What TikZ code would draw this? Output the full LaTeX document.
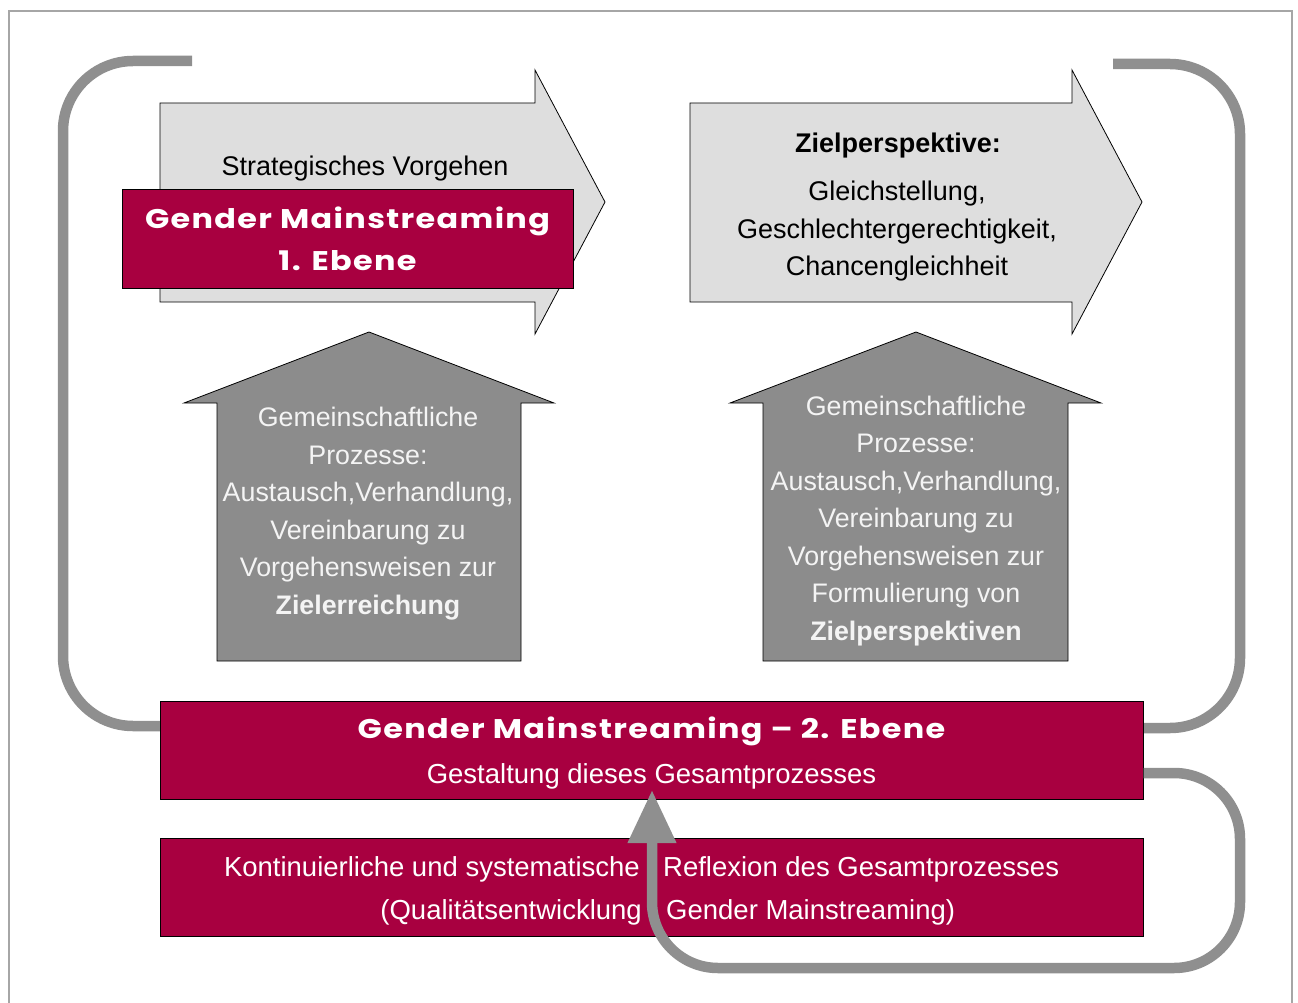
\documentclass[tikz,border=0pt]{standalone}
\usepackage{fontspec}
\setmainfont{Liberation Sans}
\newfontfamily\headfont{Poppins}[FakeStretch=1.18, LetterSpace=5]
\usetikzlibrary{arrows.meta}
\definecolor{gmred}{HTML}{A80040}
\definecolor{lightfill}{HTML}{DEDEDE}
\definecolor{darkfill}{HTML}{8C8C8C}
\definecolor{loopgray}{HTML}{8F8F8F}
\definecolor{softwhite}{HTML}{F4F4F4}
\begin{document}
\begin{tikzpicture}[x=1pt,y=-1pt,
  bodytext/.style={font=\fontsize{27}{37.5}\selectfont, align=center, inner sep=0pt},
  housetext/.style={font=\fontsize{26.8}{37.5}\selectfont, align=center, inner sep=0pt, text=softwhite},
  whitetext/.style={font=\fontsize{27.5}{43}\selectfont, inner sep=0pt, text=white},
  headtext/.style={font=\headfont\bfseries\fontsize{27}{42}\selectfont, align=center, inner sep=0pt, text=white},
  redbox/.style={draw=black, line width=0.8pt, fill=gmred, inner sep=0pt},
  blockarrow/.style={draw=black, line width=0.8pt, fill=lightfill},
  housearrow/.style={draw=black, line width=0.8pt, fill=darkfill},
  loopline/.style={draw=loopgray, line width=10.5pt}
]
\useasboundingbox (0,0) rectangle (1298,1003);
% frame
\draw[black!35, line width=1.2pt] (9,1003) -- (9,11) -- (1292,11) -- (1292,1003);

% block arrows (top)
\path[blockarrow] (160,103) -- (535,103) -- (535,70) -- (605,202) -- (535,334) -- (535,302) -- (160,302) -- cycle;
\path[blockarrow] (690,103) -- (1072,103) -- (1072,70) -- (1142,202) -- (1072,334) -- (1072,302) -- (690,302) -- cycle;

% house arrows
\path[housearrow] (217,661) -- (217,403) -- (184,403) -- (369,332) -- (554,403) -- (521,403) -- (521,661) -- cycle;
\path[housearrow] (763,661) -- (763,403) -- (730,403) -- (916,332) -- (1101,403) -- (1068,403) -- (1068,661) -- cycle;

% loop coordinates
\coordinate (lstart) at (192,61);
\coordinate (rstart) at (1113,64);

% upper loops (behind the box)
\draw[loopline, rounded corners=70pt] (lstart) -- (63,61) -- (63,726) -- (170,726);
\draw[loopline, rounded corners=70pt] (rstart) -- (1240,64) -- (1240,728) -- (1135,728);

% text of top arrows
\node[bodytext] (strat) at (365,169) {Strategisches Vorgehen};
\node[redbox, minimum width=451pt, minimum height=99pt] (gm1) at (347.5,238.5) {};
\node[headtext] (gm1t) at (347.5,239) {Gender Mainstreaming\\1. Ebene};

\node[bodytext, font=\bfseries\fontsize{27}{37.5}\selectfont] (ziel) at (898,146) {Zielperspektive:};
\node[bodytext] (zieltext) at (897,231.5) {Gleichstellung,\\Geschlechtergerechtigkeit,\\Chancengleichheit};

% house texts
\node[housetext] (proc1) at (368,513.5) {Gemeinschaftliche\\Prozesse:\\Austausch,Verhandlung,\\Vereinbarung zu\\Vorgehensweisen zur\\\textbf{Zielerreichung}};
\node[housetext] (proc2) at (916,521) {Gemeinschaftliche\\Prozesse:\\Austausch,Verhandlung,\\Vereinbarung zu\\Vorgehensweisen zur\\Formulierung von\\\textbf{Zielperspektiven}};

% bottom boxes
\node[redbox, minimum width=983pt, minimum height=98pt] (gm2) at (651.5,750) {};
\node[headtext] (gm2t) at (651.5,731) {Gender Mainstreaming – 2. Ebene};
\node[whitetext] (gm2s) at (651.5,776) {Gestaltung dieses Gesamtprozesses};

\node[redbox, minimum width=983pt, minimum height=98pt] (refl) at (651.5,887) {};
\node[whitetext, anchor=base east] (refla) at (640,876.5) {Kontinuierliche und systematische};
\node[whitetext, anchor=base west] (reflb) at (663,876.5) {Reflexion des Gesamtprozesses};
\node[whitetext, anchor=base east] (reflc) at (642,919.5) {(Qualitätsentwicklung};
\node[whitetext, anchor=base west] (refld) at (666,919.5) {Gender Mainstreaming)};

% lower loop with arrow
\coordinate (lowstart) at (1143.5,773);
\coordinate (tip) at (652,790);
\draw[loopline, rounded corners=66pt, -{Triangle[length=53pt 0 0, width=46pt 0 0]}]
  (lowstart) -- (1240,773) -- (1240,968) -- (652,968) -- (tip);
\end{tikzpicture}
\end{document}
